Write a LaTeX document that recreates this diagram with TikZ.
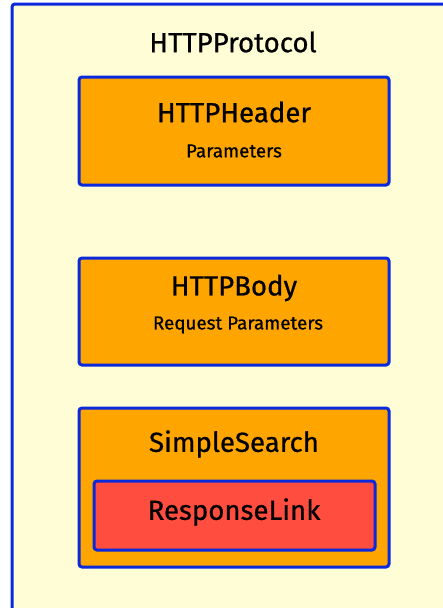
\documentclass[tikz,border=0pt]{standalone}
\usepackage{fontspec}
\setmainfont{Fira Sans}[UprightFeatures={FakeBold=0.7}]
\definecolor{bgyellow}{HTML}{FFFDD5}
\definecolor{borderblue}{HTML}{0A28DC}
\definecolor{boxorange}{HTML}{FFA500}
\definecolor{boxred}{HTML}{FF4D40}
\tikzset{
  outerbox/.style={draw=borderblue, fill=bgyellow, line width=3pt, rounded corners=3pt},
  compbox/.style={draw=borderblue, fill=boxorange, line width=3pt, rounded corners=3pt},
  innerbox/.style={draw=borderblue, fill=boxred, line width=3pt, rounded corners=3pt},
  bigtxt/.style={font=\fontsize{27.6}{32}\selectfont, text=black, inner sep=0pt},
  smalltxt/.style={font=\fontsize{18.8}{22}\selectfont, text=black, inner sep=0pt}
}
\begin{document}
\begin{tikzpicture}[x=1pt,y=-1pt]
\useasboundingbox (0,0) rectangle (443,608);
\clip (0,0) rectangle (443,608);
\draw[outerbox] (12,4) rectangle (470,640);
\node[bigtxt] (protocol) at (233,42) {HTTPProtocol};
% Header
\draw[compbox] (79,77) rectangle (389,185);
\node[bigtxt] (header) at (234,112) {HTTPHeader};
\node[smalltxt] (headerparams) at (234,151) {Parameters};
% Body
\draw[compbox] (79,258) rectangle (389,365);
\node[bigtxt] (body) at (234,288) {HTTPBody};
\node[smalltxt] (bodyparams) at (238,325) {Request Parameters};
% SimpleSearch
\draw[compbox] (79,408) rectangle (389,567);
\node[bigtxt] (search) at (234,444) {SimpleSearch};
\draw[innerbox] (94,481) rectangle (375,550);
\node[bigtxt] (link) at (234,512) {ResponseLink};
\end{tikzpicture}
\end{document}
